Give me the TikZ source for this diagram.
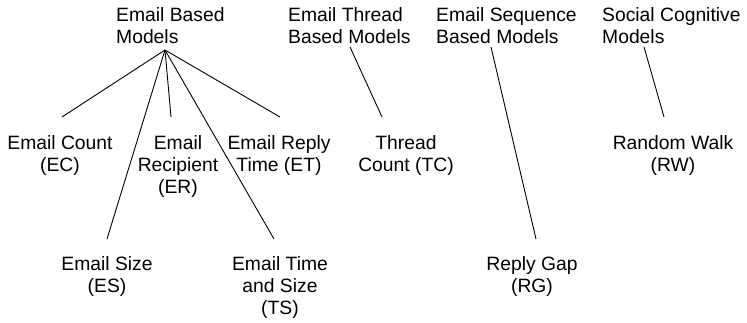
\documentclass[tikz,border=0pt]{standalone}
\usepackage{fontspec}
\setmainfont{Liberation Sans}
\begin{document}
\begin{tikzpicture}[x=1pt,y=-1pt,
  txt/.style={inner sep=0pt,font=\fontsize{19.3}{22}\selectfont},
  head/.style={txt,align=left,anchor=north west},
  leaf/.style={txt,align=center,anchor=north},
  link/.style={draw=black,line width=0.9pt}]
\useasboundingbox (0,0) rectangle (747,322);

% category headings
\node[head] (ebm) at (116,7) {Email Based\\Models};
\node[head] (etm) at (288,7) {Email Thread\\Based Models};
\node[head] (esm) at (436,7) {Email Sequence\\Based Models};
\node[head] (scm) at (602,7) {Social Cognitive\\Models};

% individual models
\node[leaf] (ec) at (60,135)  {Email Count\\(EC)};
\node[leaf] (er) at (178,135) {Email\\Recipient\\(ER)};
\node[leaf] (et) at (279,135) {Email Reply\\Time (ET)};
\node[leaf] (es) at (107,256) {Email Size\\(ES)};
\node[leaf] (ts) at (280,256) {Email Time\\and Size\\(TS)};
\node[leaf] (tc) at (406,135) {Thread\\Count (TC)};
\node[leaf] (rg) at (532,256) {Reply Gap\\(RG)};
\node[leaf] (rw) at (673,135) {Random Walk\\(RW)};

% connector end points
\coordinate (hub)   at (165,50);
\coordinate (ec-t)  at (62,117);
\coordinate (er-t)  at (171,117);
\coordinate (et-t)  at (280,117);
\coordinate (es-t)  at (107,239);
\coordinate (ts-t)  at (274,239);
\coordinate (etm-b) at (350,47);
\coordinate (tc-t)  at (382,117);
\coordinate (esm-b) at (491,47);
\coordinate (rg-t)  at (536,239);
\coordinate (scm-b) at (644,47);
\coordinate (rw-t)  at (664,117);

% tree edges
\draw[link] (hub) -- (ec-t);
\draw[link] (hub) -- (er-t);
\draw[link] (hub) -- (et-t);
\draw[link] (hub) -- (es-t);
\draw[link] (hub) -- (ts-t);
\draw[link] (etm-b) -- (tc-t);
\draw[link] (esm-b) -- (rg-t);
\draw[link] (scm-b) -- (rw-t);
\end{tikzpicture}
\end{document}
